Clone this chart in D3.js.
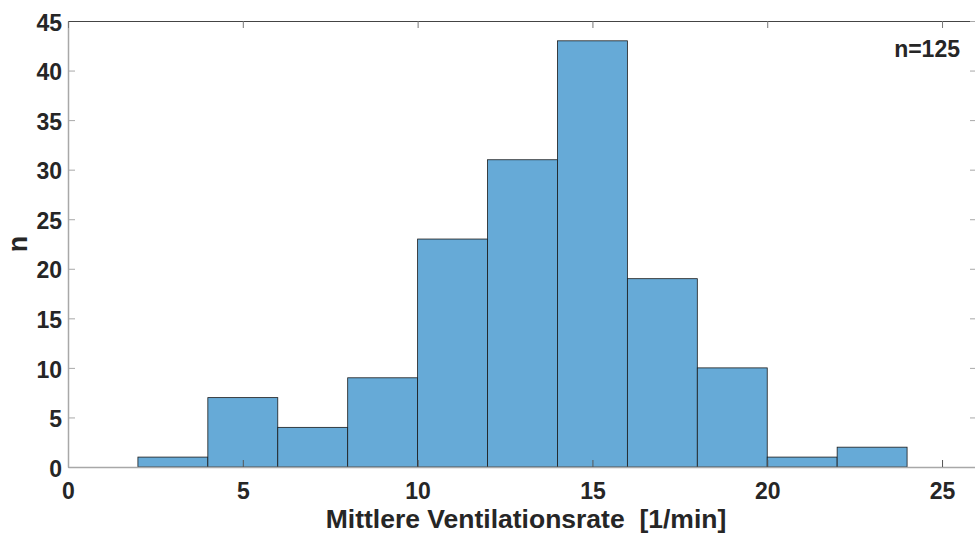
<!DOCTYPE html>
<html>
<head>
<meta charset="utf-8">
<script src="https://cdn.jsdelivr.net/npm/d3@7"></script>
<style>
    body { margin: 0; background: #fff; }
    svg text { font-family: "Liberation Sans", Arial, sans-serif; font-weight: bold; fill: #262626; }
</style>
</head>
<body>
<svg id="chart" width="975" height="535"></svg>
<script>
// histogram bins (lower edge, upper edge) and counts
let binStarts = [2, 4, 6, 8, 10, 12, 14, 16, 18, 20, 22];
let binWidth = 2;
let counts = [1, 7, 4, 9, 23, 31, 43, 19, 10, 1, 2];
let xTicks = [0, 5, 10, 15, 20, 25];
let yTicks = [0, 5, 10, 15, 20, 25, 30, 35, 40, 45];
let xLabel = "Mittlere Ventilationsrate\u00a0 [1/min]";
let yLabel = "n";
let note = "n=125";

let svg = d3.select("#chart");
let plotLeft = 68, plotTop = 21, plotRight = 977, plotBottom = 467;

let xScale = d3.scaleLinear().domain([0, 26]).range([plotLeft, plotRight]);
let yScale = d3.scaleLinear().domain([0, 45]).range([plotBottom, plotTop]);

let data = binStarts.map((s, i) => ({x0: s, x1: s + binWidth, n: counts[i]}));

// bars
svg.append("g")
    .selectAll("rect")
    .data(data)
    .enter()
    .append("rect")
    .attr("x", d => xScale(d.x0))
    .attr("y", d => yScale(d.n))
    .attr("width", d => xScale(d.x1) - xScale(d.x0))
    .attr("height", d => yScale(0) - yScale(d.n))
    .attr("fill", "#66aad7")
    .attr("stroke", "#1a1a1a")
    .attr("stroke-width", 0.8);

let tickLen = 7;
let axisColor = "#a8a8a8";

// bottom axis, ticks inside
let xAxis = d3.axisBottom(xScale).tickValues(xTicks).tickSizeInner(-tickLen).tickSizeOuter(0).tickPadding(16);
let gx = svg.append("g").attr("transform", `translate(0, ${plotBottom})`).call(xAxis);
gx.select(".domain").attr("stroke", axisColor).attr("stroke-width", 1.5);
gx.selectAll(".tick line").attr("stroke", "#555");
gx.selectAll("text").style("font-size", "23px").attr("fill", "#262626");

// left axis, ticks inside
let yAxis = d3.axisLeft(yScale).tickValues(yTicks).tickSizeInner(-tickLen).tickSizeOuter(0).tickPadding(6);
let gy = svg.append("g").attr("transform", `translate(${plotLeft}, 0)`).call(yAxis);
gy.select(".domain").attr("stroke", axisColor).attr("stroke-width", 1.5);
gy.selectAll(".tick line").attr("stroke", axisColor);
gy.selectAll("text").style("font-size", "23px").attr("fill", "#262626").attr("dy", "0.4em");

// top and right box lines with ticks
let gt = svg.append("g").attr("transform", `translate(0, ${plotTop})`)
    .call(d3.axisTop(xScale).tickValues(xTicks).tickSizeInner(-tickLen).tickSizeOuter(0).tickFormat(""));
gt.select(".domain").attr("stroke", "#444").attr("stroke-width", 1.2);
gt.selectAll(".tick line").attr("stroke", "#777");

let gr = svg.append("g").attr("transform", `translate(${plotRight}, 0)`)
    .call(d3.axisRight(yScale).tickValues(yTicks).tickSizeInner(-tickLen).tickSizeOuter(0).tickFormat(""));
gr.select(".domain").attr("stroke", "#444");
gr.selectAll(".tick line").attr("stroke", axisColor);

// labels
svg.append("text")
    .attr("x", 526)
    .attr("y", 528)
    .attr("text-anchor", "middle")
    .style("font-size", "26.5px")
    .text(xLabel);

svg.append("text")
    .attr("transform", `translate(27, ${(plotTop + plotBottom) / 2}) rotate(-90)`)
    .attr("text-anchor", "middle")
    .style("font-size", "27px")
    .text(yLabel);

svg.append("text")
    .attr("x", 960)
    .attr("y", 57)
    .attr("text-anchor", "end")
    .style("font-size", "23px")
    .text(note);
</script>
</body>
</html>
